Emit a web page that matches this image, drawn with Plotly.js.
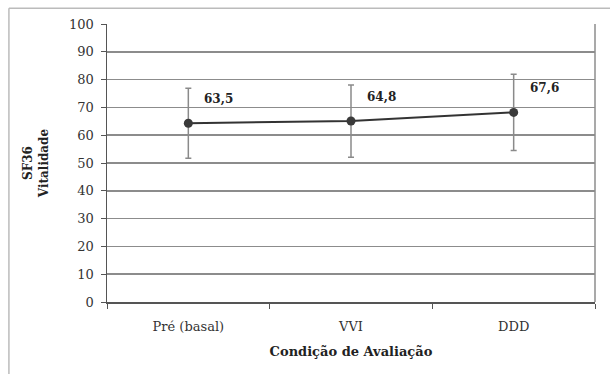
<!DOCTYPE html>
<html>
<head>
<meta charset="utf-8">
<script src="https://cdn.plot.ly/plotly-3.0.1.min.js"></script>
<style>html,body{margin:0;padding:0;background:#fff;}#chart{width:610px;height:374px;}</style>
</head>
<body>
<div id="chart"></div>
<script>
const categories = ["Pré (basal)", "VVI", "DDD"];
const means = [64.3, 65.1, 68.2];
const sdValues = [12.6, 13.0, 13.7];
const labelTexts = ["63,5", "64,8", "67,6"];
const yTicks = [0, 10, 20, 30, 40, 50, 60, 70, 80, 90, 100];

const serif = "DejaVu Serif";

const trace = {
  x: categories,
  y: means,
  type: "scatter",
  mode: "lines+markers",
  line: {color: "#333", width: 2},
  marker: {color: "#3a3a3a", size: 9},
  error_y: {type: "data", array: sdValues, visible: true, color: "#8a8a8a", thickness: 1.5, width: 3},
  hoverinfo: "skip",
  showlegend: false
};

const annotations = categories.map((c, i) => ({
  x: c, y: means[i], xref: "x", yref: "y",
  text: "<b>" + labelTexts[i] + "</b>",
  showarrow: false, xanchor: "left", yanchor: "bottom",
  xshift: 14, yshift: 15,
  font: {family: serif, size: 12, color: "#222"}
}));

const layout = {
  width: 610, height: 374,
  margin: {l: 107, r: 15, t: 24, b: 72},
  paper_bgcolor: "#fff", plot_bgcolor: "#fff",
  font: {family: serif, color: "#333"},
  xaxis: {
    type: "category", range: [-0.5, 2.5],
    tickson: "boundaries", ticks: "outside", ticklen: 5, tickcolor: "#555",
    ticklabelstandoff: 12,
    showgrid: false, showline: true, linecolor: "#555", linewidth: 1.5,
    mirror: false, zeroline: false,
    tickfont: {family: serif, size: 13, color: "#333"},
    title: {text: "<b>Condição de Avaliação</b>", font: {family: serif, size: 13, color: "#222"}, standoff: 14}
  },
  yaxis: {
    range: [0, 100], tickvals: yTicks, ticktext: yTicks.map(String),
    ticks: "outside", ticklen: 5, tickcolor: "#555",
    ticklabelstandoff: 4,
    showgrid: true, gridcolor: "#8c8c8c", gridwidth: 1.5,
    showline: true, linecolor: "#555", linewidth: 1.5,
    zeroline: false,
    tickfont: {family: serif, size: 13, color: "#333"},
    title: {text: "<b>SF36<br>Vitalidade</b>", font: {family: serif, size: 12, color: "#222"}, standoff: 18}
  },
  annotations: annotations,
  shapes: [
    {type: "line", xref: "paper", yref: "paper", x0: 1, x1: 1, y0: 0, y1: 1, line: {color: "#8c8c8c", width: 1.5}},
    {type: "line", xref: "paper", yref: "paper", x0: -0.201, x1: 1.05, y0: 1.057, y1: 1.057, line: {color: "#bbbbbb", width: 1.5}},
    {type: "line", xref: "paper", yref: "paper", x0: -0.201, x1: -0.201, y0: -0.3, y1: 1.057, line: {color: "#bbbbbb", width: 1.5}}
  ]
};

Plotly.newPlot("chart", [trace], layout, {displayModeBar: false, staticPlot: true});
</script>
</body>
</html>
